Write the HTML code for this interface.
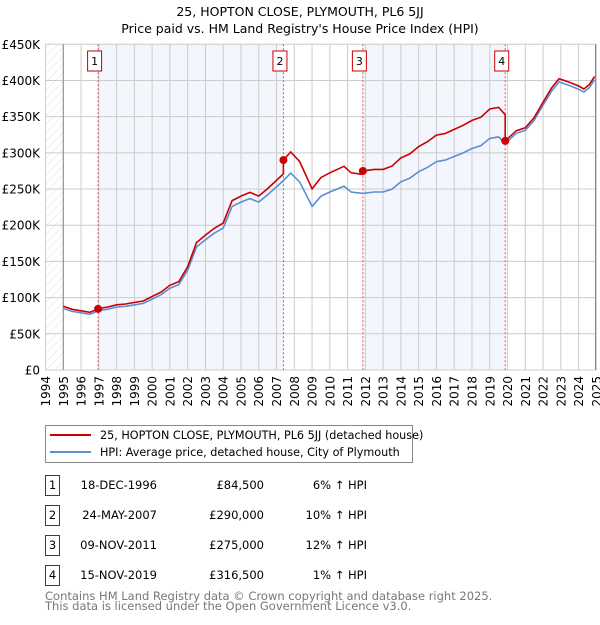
<!DOCTYPE html>
<html><head><meta charset="utf-8"><style>
body{margin:0;background:#fff;font-family:"Liberation Sans","DejaVu Sans",sans-serif;}
svg text{font-family:"DejaVu Sans","Liberation Sans",sans-serif;}
</style></head><body>
<svg id="chart" width="600" height="620" xmlns="http://www.w3.org/2000/svg">
<defs><pattern id="hatch" width="6" height="6" patternUnits="userSpaceOnUse" patternTransform="rotate(45)"><line x1="0" y1="0" x2="0" y2="6" stroke="#d8d8d8" stroke-width="0.8"/></pattern></defs>
<text x="300" y="16" text-anchor="middle" font-size="12.5">25, HOPTON CLOSE, PLYMOUTH, PL6 5JJ</text>
<text x="300" y="33" text-anchor="middle" font-size="12.5">Price paid vs. HM Land Registry's House Price Index (HPI)</text>
<g id="plot"></g>
<g>
<rect x="45.5" y="425.5" width="367" height="37" fill="#fff" stroke="#888"/>
<line x1="50" y1="435" x2="91" y2="435" stroke="#cc0000" stroke-width="2"/>
<text x="100" y="439" font-size="11.2">25, HOPTON CLOSE, PLYMOUTH, PL6 5JJ (detached house)</text>
<line x1="50" y1="452" x2="91" y2="452" stroke="#5b8fd1" stroke-width="2"/>
<text x="100" y="456" font-size="11.2">HPI: Average price, detached house, City of Plymouth</text>
</g>
<g id="table" font-size="11.5"></g>
<text x="45" y="600" font-size="11.5" fill="#777">Contains HM Land Registry data © Crown copyright and database right 2025.</text>
<text x="45" y="610" font-size="11.5" fill="#777">This data is licensed under the Open Government Licence v3.0.</text>
</svg>
<script>
const hpiYears=[1995,1995.5,1996,1996.5,1997,1997.5,1998,1998.5,1999,1999.5,2000,2000.5,2001,2001.5,2002,2002.5,2003,2003.5,2004,2004.5,2005,2005.5,2006,2006.5,2007,2007.4,2007.8,2008.3,2009,2009.5,2010,2010.8,2011.2,2011.85,2012.5,2013,2013.5,2014,2014.5,2015,2015.5,2016,2016.5,2017,2017.5,2018,2018.5,2019,2019.5,2019.87,2020.5,2021,2021.5,2022,2022.5,2022.9,2023.5,2024,2024.3,2024.6,2024.9];
const hpiValues=[85,81,79,77,82,84,87,88,90,92,98,104,113,118,138,170,180,189,196,226,232,237,232,242,253,262,272,260,226,240,246,254,246,244,246,246,250,260,265,274,280,288,290,295,300,306,310,320,322,313,327,331,345,366,386,398,393,388,384,390,401];
const saleLabels=["1","2","3","4"];
const saleYears=[1996.96,2007.39,2011.86,2019.87];
const salePrices=[84500,290000,275000,316500];
const saleDates=["18-DEC-1996","24-MAY-2007","09-NOV-2011","15-NOV-2019"];
const salePriceText=["£84,500","£290,000","£275,000","£316,500"];
const saleHpiText=["6% ↑ HPI","10% ↑ HPI","12% ↑ HPI","1% ↑ HPI"];
const yTicks=[0,50,100,150,200,250,300,350,400,450];
const yTickLabels=["£0","£50K","£100K","£150K","£200K","£250K","£300K","£350K","£400K","£450K"];

const NS="http://www.w3.org/2000/svg";
const X0=45.5,YR=17.77,Y0=370,YS=325.7/450;
const x=t=>X0+(t-1994)*YR;
const y=v=>Y0-v*YS;
const plot=document.getElementById('plot');
function mk(tag,attrs,parent){const e=document.createElementNS(NS,tag);for(const k in attrs)e.setAttribute(k,attrs[k]);(parent||plot).appendChild(e);return e;}
function hpiAt(t){if(t<=hpiYears[0])return hpiValues[0];for(let i=1;i<hpiYears.length;i++){if(t<=hpiYears[i]){const f=(t-hpiYears[i-1])/(hpiYears[i]-hpiYears[i-1]);return hpiValues[i-1]+f*(hpiValues[i]-hpiValues[i-1]);}}return hpiValues[hpiValues.length-1];}

let r=mk('rect',{x:x(1994),y:y(450),width:YR,height:Y0-y(450),fill:'url(#hatch)'});


for(let i=0;i<saleYears.length;i+=2){
  const end=i+1<saleYears.length?saleYears[i+1]:2025;
  const s=mk('rect',{x:x(saleYears[i]),y:y(450),width:x(end)-x(saleYears[i]),height:Y0-y(450),fill:'#f3f6fd'});
  
  
}
for(let yr=1994;yr<=2025;yr++){
  const g=mk('line',{x1:x(yr),x2:x(yr),y1:y(450),y2:Y0,stroke:'#ccc','stroke-width':1});
  
  
  const tx=mk('text',{x:0,y:0,'font-size':12,'text-anchor':'end',transform:`translate(${x(yr)+4.5},${Y0+6}) rotate(-90)`});
  tx.textContent=yr;
  
  
}
yTicks.forEach((v,i)=>{
  const g=mk('line',{x1:X0,x2:x(2025),y1:y(v*1),y2:y(v*1),stroke:'#ccc','stroke-width':1});
  
  
  const tx=mk('text',{x:40,y:y(v)+4.5,'font-size':12,'text-anchor':'end'});
  tx.textContent=yTickLabels[i];
  
  
});
let a=mk('line',{x1:x(1995),x2:x(1995),y1:y(450),y2:Y0,stroke:'#888'});


a=mk('line',{x1:x(2024.95),x2:x(2024.95),y1:y(450),y2:Y0,stroke:'#888'});


saleYears.forEach((t,i)=>{
  const l=mk('line',{x1:x(t),x2:x(t),y1:y(450),y2:Y0,stroke:'#e05050','stroke-dasharray':'2,2','stroke-width':1});
  
  
  const b=mk('rect',{x:x(t)-10.5,y:51,width:14,height:20,fill:'#fff',stroke:'#cc0000'});
  
  
  const tx=mk('text',{x:x(t)-3.5,y:65,'font-size':11,'text-anchor':'middle'});
  tx.textContent=saleLabels[i];
  
  
});
let d='';hpiYears.forEach((t,i)=>{d+=(i?'L':'M')+x(t).toFixed(1)+','+y(hpiValues[i]).toFixed(1);});
let p=mk('path',{d:d,fill:'none',stroke:'#5b8fd1','stroke-width':1.6});


const pts=[...hpiYears,...saleYears].sort((a,b)=>a-b);
function factor(t,idx){return salePrices[idx]/1000/hpiAt(saleYears[idx]);}
let pd='';let first=true;
pts.forEach(t=>{
  let idx=0;for(let k=0;k<saleYears.length;k++)if(saleYears[k]<t)idx=k;
  if(saleYears.indexOf(t)>=0){
    const k=saleYears.indexOf(t);
    const prev=k>0?k-1:0;
    pd+=(first?'M':'L')+x(t).toFixed(1)+','+y(hpiAt(t)*factor(t,prev)).toFixed(1);first=false;
    pd+='L'+x(t).toFixed(1)+','+y(salePrices[k]/1000).toFixed(1);
  } else {
    pd+=(first?'M':'L')+x(t).toFixed(1)+','+y(hpiAt(t)*factor(t,idx)).toFixed(1);first=false;
  }
});
p=mk('path',{d:pd,fill:'none',stroke:'#cc0000','stroke-width':1.6});


saleYears.forEach((t,i)=>{
  const c=mk('circle',{cx:x(t),cy:y(salePrices[i]/1000),r:4,fill:'#cc0000'});
  
  
});
const tb=document.getElementById('table');
saleYears.forEach((t,i)=>{
  const ry=475+i*30;
  const b=mk('rect',{x:45.5,y:ry+0.5,width:14,height:20,fill:'#fff',stroke:'#cc0000'},tb);
  
  
  const cells=[[52.5,'middle',saleLabels[i]],[157,'end',saleDates[i]],[264,'end',salePriceText[i]],[367,'end',saleHpiText[i]]];
  const names=['table-row-number','table-row-date','table-row-price','table-row-hpi'];
  cells.forEach((c,j)=>{
    const tx=mk('text',{x:c[0],y:ry+14,'text-anchor':c[1]},tb);
    tx.textContent=c[2];
    
    
  });
});
</script>
</body></html>
